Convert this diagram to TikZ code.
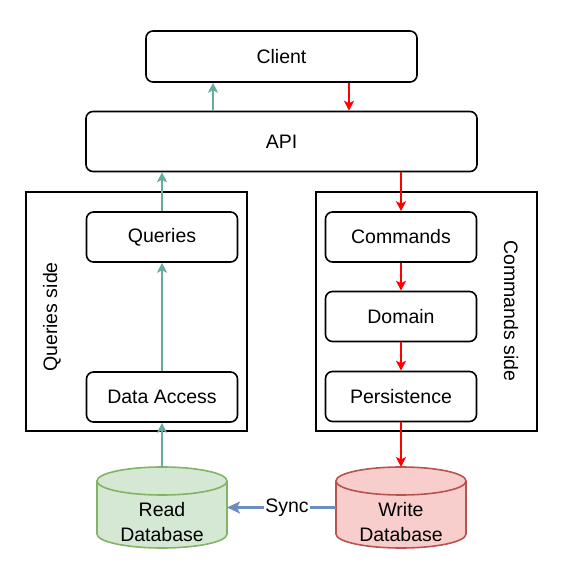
\documentclass[tikz,border=0pt]{standalone}
\usepackage{fontspec}
\setmainfont{Liberation Sans}
\usetikzlibrary{arrows.meta}

\definecolor{querycol}{HTML}{67AB9F}
\definecolor{cmdcol}{HTML}{FF0000}
\definecolor{synccol}{HTML}{6C8EBF}
\definecolor{readfill}{HTML}{D5E8D4}
\definecolor{readline}{HTML}{82B366}
\definecolor{writefill}{HTML}{F8CECC}
\definecolor{writeline}{HTML}{B85450}

\begin{document}
\begin{tikzpicture}
  [x=1pt, y=1pt, font=\fontsize{19.5}{25}\selectfont]
  \tikzstyle{box} = [draw=black, line width=1.6pt, rounded corners=7pt, minimum height=50pt, inner sep=0pt];
  \tikzstyle{layer_box} = [box, minimum width=151pt];
  \tikzstyle{side_box} = [draw=black, line width=1.6pt, minimum width=221pt, minimum height=239pt];
  \tikzstyle{db_box} = [minimum width=130pt, minimum height=81pt, inner sep=0pt, outer sep=0pt];
  \tikzstyle{query_arrow} = [draw=querycol, line width=1.6pt, -{Stealth[length=10pt, width=10pt, inset=2.5pt]}];
  \tikzstyle{cmd_arrow} = [draw=cmdcol, line width=1.6pt, -{Stealth[length=10pt, width=10pt, inset=2.5pt]}];
  \tikzstyle{sync_arrow} = [draw=synccol, line width=2.6pt, -{Stealth[length=13pt, width=12pt, inset=3pt]}];

  \useasboundingbox (0, 0) rectangle (562, 562);

  \node[box, minimum width=271pt, minimum height=51pt] (client) at (281.5, 505.5) {Client};
  \node[box, minimum width=391pt, minimum height=60pt] (api) at (281.5, 420.5) {API};

  % the two sides
  \node[side_box] (queryside) at (136.5, 250.5) {};
  \node[side_box] (cmdside)   at (426.5, 250.5) {};

  \node[rotate=90]  (querylabel) at (52, 245)  {Queries side};
  \node[rotate=-90] (cmdlabel)   at (511, 251) {Commands side};

  \node[layer_box] (queries)    at (162, 325) {Queries};
  \node[layer_box] (dataaccess) at (162, 165) {Data Access};

  \node[layer_box] (commands)    at (401, 325)   {Commands};
  \node[layer_box] (domain)      at (401, 245.5) {Domain};
  \node[layer_box] (persistence) at (401, 165.5) {Persistence};

  % databases
  \node[db_box] (readdb)  at (162, 54.5) {};
  \node[db_box] (writedb) at (401, 54.5) {};

  \draw[draw=readline, fill=readfill, line width=1.6pt]
    ([yshift=-14pt]readdb.north west) -- ([yshift=14pt]readdb.south west)
    arc[start angle=180, end angle=360, x radius=65pt, y radius=14pt]
    -- ([yshift=-14pt]readdb.north east)
    arc[start angle=0, end angle=180, x radius=65pt, y radius=14pt] -- cycle;
  \draw[draw=readline, line width=1.6pt]
    ([yshift=-14pt]readdb.north west)
    arc[start angle=180, end angle=360, x radius=65pt, y radius=14pt];

  \draw[draw=writeline, fill=writefill, line width=1.6pt]
    ([yshift=-14pt]writedb.north west) -- ([yshift=14pt]writedb.south west)
    arc[start angle=180, end angle=360, x radius=65pt, y radius=14pt]
    -- ([yshift=-14pt]writedb.north east)
    arc[start angle=0, end angle=180, x radius=65pt, y radius=14pt] -- cycle;
  \draw[draw=writeline, line width=1.6pt]
    ([yshift=-14pt]writedb.north west)
    arc[start angle=180, end angle=360, x radius=65pt, y radius=14pt];

  \node[align=center] (readtext)  at ([yshift=-14.5pt]readdb.center)  {Read\\Database};
  \node[align=center] (writetext) at ([yshift=-14.5pt]writedb.center) {Write\\Database};

  % query path
  \coordinate (upx) at (213, 0);
  \draw[query_arrow] (readdb.north) -- (dataaccess.south);
  \draw[query_arrow] (dataaccess.north) -- (queries.south);
  \draw[query_arrow] (queries.north) -- (queries.north |- api.south);
  \draw[query_arrow] (upx |- api.north) -- (upx |- client.south);

  % command path
  \coordinate (downx) at (349, 0);
  \draw[cmd_arrow] (downx |- client.south) -- (downx |- api.north);
  \draw[cmd_arrow] (commands.north |- api.south) -- (commands.north);
  \draw[cmd_arrow] (commands.south) -- (domain.north);
  \draw[cmd_arrow] (domain.south) -- (persistence.north);
  \draw[cmd_arrow] (persistence.south) -- (writedb.north);

  \draw[sync_arrow] (writedb.west) -- node[pos=0.45, fill=white, inner sep=1pt] (synclabel) {Sync} (readdb.east);

\end{tikzpicture}
\end{document}
